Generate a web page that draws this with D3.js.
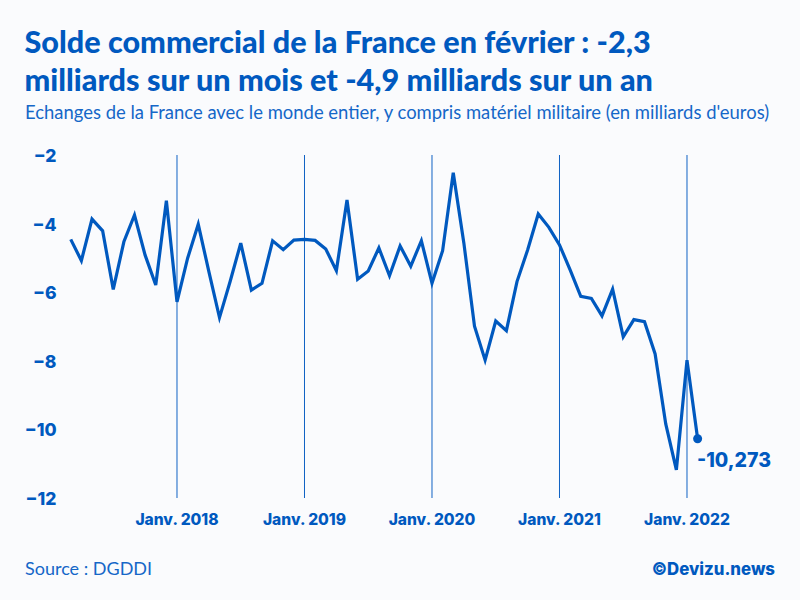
<!DOCTYPE html>
<html><head><meta charset="utf-8">
<script src="https://cdn.jsdelivr.net/npm/d3@7"></script>
<style>html,body{margin:0;padding:0;background:#fafbfd}svg{display:block}</style>
</head><body><svg id="c" width="800" height="600"></svg>
<script>
const titleLines = ["Solde commercial de la France en février : -2,3","milliards sur un mois et -4,9 milliards sur un an"];
const subtitle = "Echanges de la France avec le monde entier, y compris matériel militaire (en milliards d'euros)";
const source = "Source : DGDDI";
const credit = "©Devizu.news";
const startMonth = new Date(2017,2,1);
const values = [-4.46,-5.08,-3.87,-4.21,-5.92,-4.53,-3.75,-4.92,-5.79,-3.33,-6.28,-5.01,-4.02,-5.40,-6.74,-5.69,-4.57,-5.94,-5.74,-4.50,-4.76,-4.48,-4.46,-4.49,-4.74,-5.37,-3.31,-5.62,-5.38,-4.71,-5.52,-4.65,-5.24,-4.50,-5.74,-4.79,-2.52,-4.57,-6.99,-7.98,-6.84,-7.12,-5.69,-4.77,-3.72,-4.11,-4.62,-5.35,-6.12,-6.18,-6.69,-5.91,-7.30,-6.80,-6.86,-7.80,-9.84,-11.18,-7.98,-10.273];
const yTicks = [-2,-4,-6,-8,-10,-12];
const xTickYears = [2018,2019,2020,2021,2022];
const lastLabel = "-10,273";

const blue="#0059bf";
const lightBlue="#1567c8";
const monthIdx = d=>d3.timeMonth.count(startMonth,d);
const x = d3.scaleLinear().domain([0,59]).range([70.75,697.62]);
const y = d3.scaleLinear().domain([-2,-12]).range([155,498]);
const svg = d3.select("#c");
svg.append("rect").attr("width",800).attr("height",600).attr("fill","#fafbfd");

const t = svg.append("g").attr("fill",blue).attr("font-family","Lato");
titleLines.forEach((s,i)=>t.append("text").text(s).attr("x",24.5).attr("y",[53,91][i]).attr("font-size",30.6).attr("font-weight",900));
t.append("text").text(subtitle).attr("x",25).attr("y",119).attr("font-size",18.45).attr("font-weight",400).attr("fill",lightBlue);

svg.append("g").selectAll("line").data(xTickYears).join("line")
 .attr("x1",d=>x(monthIdx(new Date(d,0,1)))).attr("x2",d=>x(monthIdx(new Date(d,0,1))))
 .attr("y1",155).attr("y2",498).attr("stroke","#0f62c4").attr("stroke-width",1);

svg.append("g").selectAll("text").data(xTickYears).join("text")
 .text(d=>"Janv. "+d).attr("x",d=>x(monthIdx(new Date(d,0,1)))).attr("y",525)
 .attr("text-anchor","middle").attr("fill",blue).attr("font-family","Inter").attr("font-weight",800).attr("font-size",15.6);

svg.append("g").selectAll("text").data(yTicks).join("text")
 .text(d=>"\u2212"+Math.abs(d)).attr("x",56.5).attr("y",d=>y(d)+7)
 .attr("text-anchor","end").attr("fill",blue).attr("font-family","Inter").attr("font-weight",800).attr("font-size",17.5);

const line = d3.line().x((d,i)=>x(i)).y(d=>y(d));
svg.append("path").datum(values).attr("d",line).attr("fill","none").attr("stroke",blue).attr("stroke-width",3.2).attr("stroke-linejoin","miter");
svg.append("circle").attr("cx",x(59)).attr("cy",y(values[59])).attr("r",4.5).attr("fill",blue);
svg.append("text").text(lastLabel).attr("x",697).attr("y",467).attr("fill",blue).attr("font-family","Inter").attr("font-weight",800).attr("font-size",19.5);

svg.append("text").text(source).attr("x",25).attr("y",575).attr("fill",lightBlue).attr("font-family","Lato").attr("font-weight",400).attr("font-size",18);
svg.append("text").text(credit).attr("x",775).attr("y",575).attr("text-anchor","end").attr("fill",blue).attr("font-family","Inter").attr("font-weight",800).attr("font-size",16.8);
</script></body></html>
